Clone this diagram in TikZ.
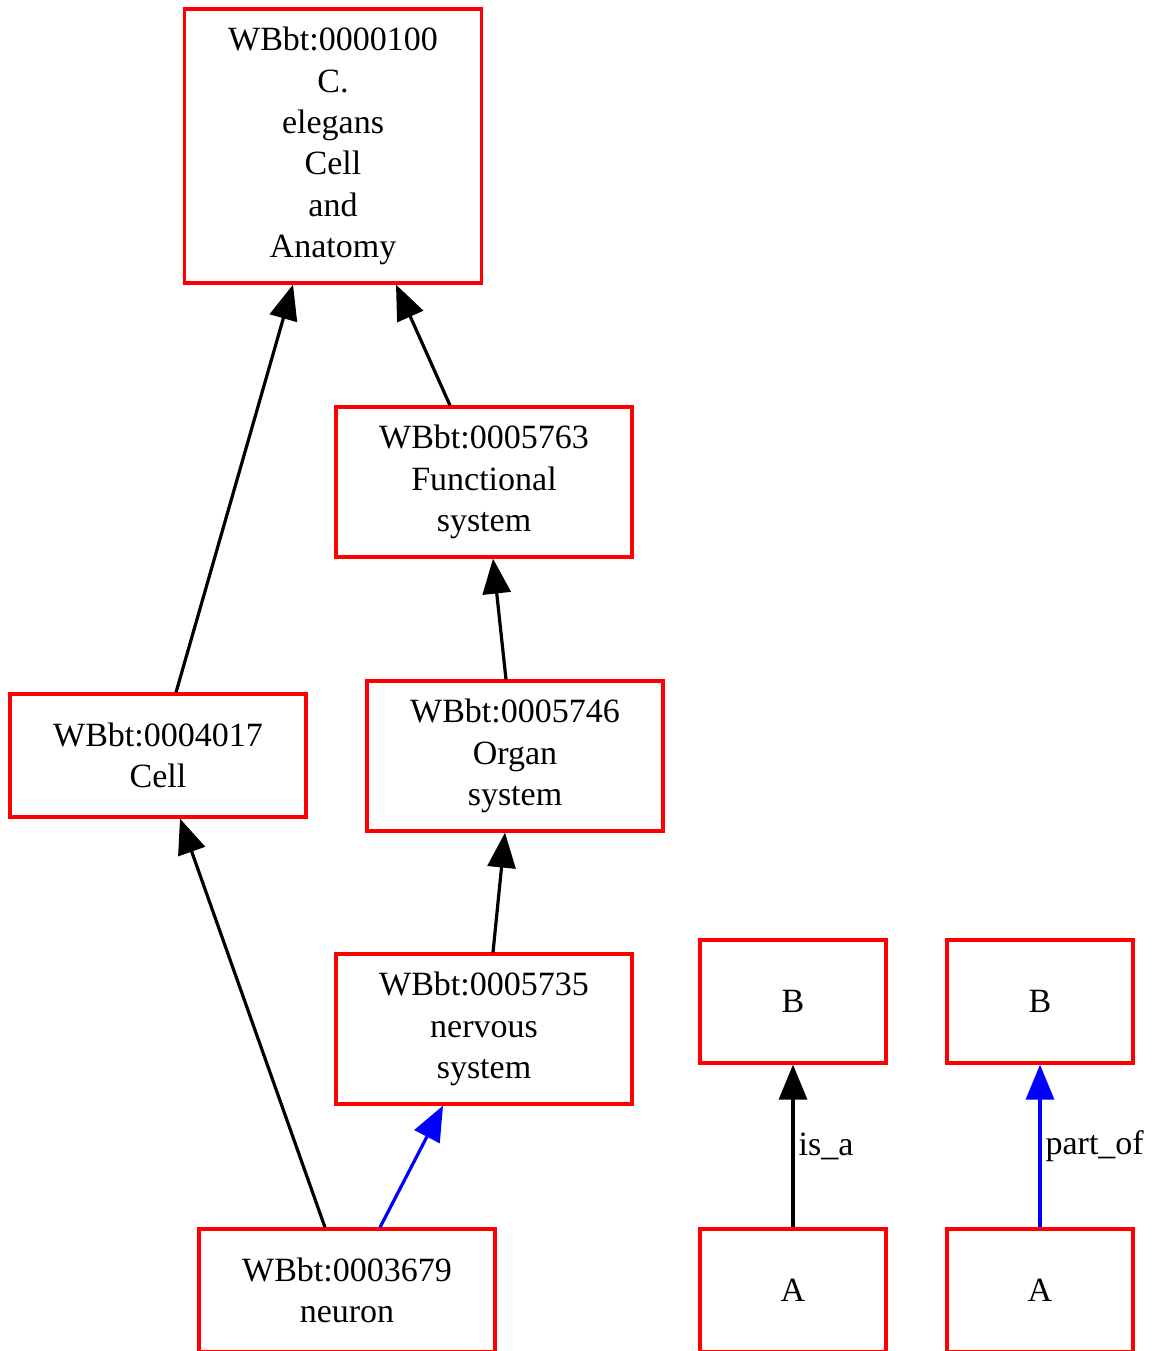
\documentclass[tikz,border=0pt]{standalone}
\usepackage{fontspec}
\setmainfont{Liberation Serif}
\usetikzlibrary{arrows.meta}
\begin{document}
\begin{tikzpicture}[x=1pt,y=-1pt,
  termbox/.style={draw=red, line width=3.2pt, rectangle, inner sep=0pt, align=center,
    minimum width=296pt, font=\fontsize{34}{41.3}\selectfont},
  smallbox/.style={termbox, minimum width=186pt, minimum height=123pt},
  isa/.style={draw=black, line width=3.2pt, -{Triangle[length=35pt,width=28pt]}},
  partof/.style={draw=blue, line width=3.2pt, -{Triangle[length=35pt,width=28pt]}},
  elabel/.style={font=\fontsize{34}{41.3}\selectfont, inner sep=4pt, right}]
\useasboundingbox (0,0) rectangle (1164,1351);
\clip (0,0) rectangle (1164,1351);
\fill[white] (0,0) rectangle (1164,1351);

\node[termbox, minimum width=297pt, minimum height=274pt] (n100) at (333,146)
  {WBbt:0000100\\C.\\elegans\\Cell\\and\\Anatomy};
\node[termbox, minimum height=150pt] (n5763) at (484,482) {WBbt:0005763\\Functional\\system};
\node[termbox, minimum height=123pt] (n4017) at (158,755.5) {WBbt:0004017\\Cell};
\node[termbox, minimum height=150pt] (n5746) at (515,756) {WBbt:0005746\\Organ\\system};
\node[termbox, minimum height=150pt] (n5735) at (484,1029) {WBbt:0005735\\nervous\\system};
\node[termbox, minimum height=123pt] (n3679) at (347,1290.5) {WBbt:0003679\\neuron};

\node[smallbox] (b1) at (793,1001.5) {B};
\node[smallbox] (b2) at (1040,1001.5) {B};
\node[smallbox] (a1) at (793,1290.5) {A};
\node[smallbox] (a2) at (1040,1290.5) {A};

\draw[isa] ([xshift=18pt]n4017.north) -- ([xshift=-40pt]n100.south);
\draw[isa] ([xshift=-34pt]n5763.north) -- ([xshift=63pt]n100.south);
\draw[isa] ([xshift=-9pt]n5746.north) -- ([xshift=9pt]n5763.south);
\draw[isa] ([xshift=9pt]n5735.north) -- ([xshift=-10pt]n5746.south);
\draw[isa] ([xshift=-22pt]n3679.north) -- ([xshift=22pt]n4017.south);
\draw[partof] ([xshift=33pt]n3679.north) -- ([xshift=-41pt]n5735.south);

\draw[isa] (a1.north) -- node[elabel] (lisa) {is\_a} (b1.south);
\draw[partof] (a2.north) -- node[elabel] (lpart) {part\_of} (b2.south);
\end{tikzpicture}
\end{document}
